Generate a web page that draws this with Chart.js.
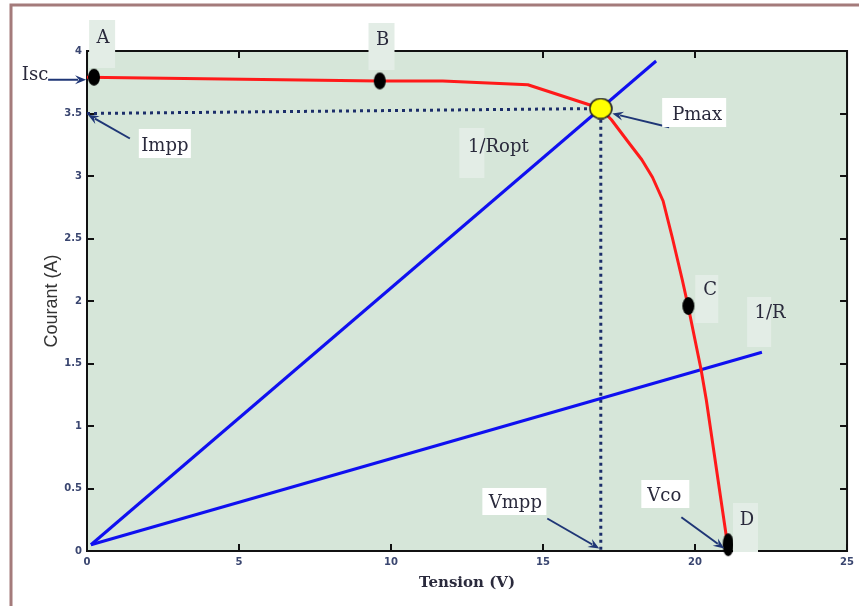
<!DOCTYPE html>
<html>
<head>
<meta charset="utf-8">
<script src="https://cdn.jsdelivr.net/npm/chart.js@4.4.1/dist/chart.umd.min.js"></script>
<style>
html, body { margin: 0; padding: 0; background: #fff; }
</style>
</head>
<body>
<canvas id="graficoIV" width="859" height="606"></canvas>
<script>
// COURBE I-V DU MODULE
const tensionIV = [0, 9.6, 11.7, 14.5, 16.9, 17.25, 17.84, 18.25, 18.6, 18.95, 19.25, 19.58, 19.78, 20.2, 20.37, 21.1];
const courantIV = [3.79, 3.76, 3.76, 3.73, 3.54, 3.45, 3.26, 3.13, 2.99, 2.80, 2.51, 2.17, 1.95, 1.45, 1.21, 0.0];

// DROITES DE CHARGE (1/Ropt et 1/R)
const tensionRopt = [0.13, 18.72];
const courantRopt = [0.05, 3.92];
const tensionR = [0.13, 22.2];
const courantR = [0.05, 1.59];

// POINTS A, B, C, D
const pointsNoms = ['A', 'B', 'C', 'D'];
const pointsTension = [0.23, 9.63, 19.78, 21.09];
const pointsCourant = [3.79, 3.76, 1.96, 0.05];

// POINT DE PUISSANCE MAXIMALE
const vmpp = 16.9;
const impp = 3.54;
const imppAxe = 3.5;

// GRADUATIONS
const ticksTension = [0, 5, 10, 15, 20, 25];
const ticksCourant = [0, 0.5, 1, 1.5, 2, 2.5, 3, 3.5, 4];

// ETIQUETTES (position du texte en V / A, boite en px autour)
const etiquettes = [
    { t: 'A', v: 0.53, i: 4.104, fond: '#e3ede6', bw: 26, bh: 48, dx: -1, dy: 6 },
    { t: 'B', v: 9.72, i: 4.088, fond: '#e3ede6', bw: 26, bh: 47, dx: -1, dy: 6.5 },
    { t: 'C', v: 20.5, i: 2.088, fond: '#e3ede6', bw: 23, bh: 48, dx: -3.5, dy: 9 },
    { t: 'D', v: 21.71, i: 0.248, fond: '#e3ede6', bw: 25, bh: 49, dx: -1.5, dy: 7.5 },
    { t: '1/Ropt', v: 13.53, i: 3.232, fond: '#e3ede6', bw: 25, bh: 50, dx: -26.5, dy: 6 },
    { t: '1/R', v: 22.47, i: 1.904, fond: '#e3ede6', bw: 24, bh: 50, dx: -11, dy: 9 },
    { t: 'Pmax', v: 20.07, i: 3.488, fond: '#ffffff', bw: 64, bh: 29, dx: -3, dy: -2.5 },
    { t: 'Impp', v: 2.56, i: 3.24, fond: '#ffffff', bw: 52, bh: 29, dx: 0, dy: -2.5 },
    { t: 'Vmpp', v: 14.09, i: 0.384, fond: '#ffffff', bw: 64, bh: 27, dx: -1, dy: -1.5 },
    { t: 'Vco', v: 18.99, i: 0.44, fond: '#ffffff', bw: 48, bh: 28, dx: 1, dy: -2 },
    { t: 'Isc', v: -1.71, i: 3.808, fond: null }
];

// FLECHES (de -> vers, en V / A)
const fleches = [
    { de: [-1.28, 3.77], vers: [-0.03, 3.77] },
    { de: [1.41, 3.30], vers: [0.03, 3.49] },
    { de: [19.15, 3.39], vers: [17.28, 3.50] },
    { de: [15.14, 0.26], vers: [16.85, 0.02] },
    { de: [19.55, 0.27], vers: [20.96, 0.02] }
];

function serie(xs, ys) {
    return xs.map((x, k) => ({ x: x, y: ys[k] }));
}

// marqueur elliptique dessine sur un petit canvas
function ellipse(w, h, fill, stroke) {
    const c = document.createElement('canvas');
    c.width = w + 2; c.height = h + 2;
    const g = c.getContext('2d');
    g.beginPath();
    g.ellipse(c.width / 2, c.height / 2, w / 2, h / 2, 0, 0, Math.PI * 2);
    g.fillStyle = fill; g.fill();
    if (stroke) { g.lineWidth = 1.5; g.strokeStyle = stroke; g.stroke(); }
    return c;
}

const marqueurs = [ellipse(12, 17, '#000'), ellipse(12, 17, '#000'), ellipse(12, 18, '#000'), ellipse(11, 23, '#000')];
const marqueurPmax = ellipse(22, 20, '#ffff00', '#222');

const decorPlugin = {
    id: 'decor',
    beforeDraw(chart) {
        const { ctx, chartArea: a } = chart;
        ctx.save();
        ctx.fillStyle = '#fff';
        ctx.fillRect(0, 0, chart.width, chart.height);
        // cadre exterieur
        ctx.strokeStyle = '#a47b7b';
        ctx.lineWidth = 3;
        ctx.beginPath();
        ctx.moveTo(11, chart.height + 5);
        ctx.lineTo(11, 5);
        ctx.lineTo(chart.width + 5, 5);
        ctx.stroke();
        ctx.fillStyle = '#d6e6d9';
        ctx.fillRect(a.left, a.top, a.right - a.left, a.bottom - a.top);
        ctx.restore();
    },
    beforeDatasetsDraw(chart) {
        const { ctx, chartArea: a, scales: { x, y } } = chart;
        ctx.save();
        ctx.strokeStyle = '#111';
        ctx.lineWidth = 2;
        ctx.strokeRect(a.left, a.top, a.right - a.left, a.bottom - a.top);
        ctx.beginPath();
        ticksTension.forEach(v => {
            const px = Math.round(x.getPixelForValue(v));
            ctx.moveTo(px, a.bottom); ctx.lineTo(px, a.bottom - 7);
            ctx.moveTo(px, a.top); ctx.lineTo(px, a.top + 7);
        });
        ticksCourant.forEach(v => {
            const py = Math.round(y.getPixelForValue(v));
            ctx.moveTo(a.left, py); ctx.lineTo(a.left + 7, py);
            ctx.moveTo(a.right, py); ctx.lineTo(a.right - 7, py);
        });
        ctx.stroke();
        ctx.restore();
    },
    afterDraw(chart) {
        const { ctx, scales: { x, y } } = chart;
        ctx.save();
        // fleches
        ctx.strokeStyle = '#1f3676';
        ctx.fillStyle = '#1f3676';
        ctx.lineWidth = 2;
        fleches.forEach(f => {
            const x0 = x.getPixelForValue(f.de[0]), y0 = y.getPixelForValue(f.de[1]);
            const x1 = x.getPixelForValue(f.vers[0]), y1 = y.getPixelForValue(f.vers[1]);
            const ang = Math.atan2(y1 - y0, x1 - x0);
            ctx.beginPath();
            ctx.moveTo(x0, y0);
            ctx.lineTo(x1 - 8 * Math.cos(ang), y1 - 8 * Math.sin(ang));
            ctx.stroke();
            ctx.beginPath();
            ctx.moveTo(x1, y1);
            ctx.lineTo(x1 - 11 * Math.cos(ang) + 4.5 * Math.sin(ang), y1 - 11 * Math.sin(ang) - 4.5 * Math.cos(ang));
            ctx.lineTo(x1 - 7 * Math.cos(ang), y1 - 7 * Math.sin(ang));
            ctx.lineTo(x1 - 11 * Math.cos(ang) - 4.5 * Math.sin(ang), y1 - 11 * Math.sin(ang) + 4.5 * Math.cos(ang));
            ctx.closePath();
            ctx.fill();
        });
        // etiquettes
        ctx.font = '18px "DejaVu Serif"';
        ctx.textAlign = 'center';
        ctx.textBaseline = 'middle';
        etiquettes.forEach(e => {
            const px = x.getPixelForValue(e.v), py = y.getPixelForValue(e.i);
            if (e.fond) {
                ctx.fillStyle = e.fond;
                ctx.fillRect(px + e.dx - e.bw / 2, py + e.dy - e.bh / 2, e.bw, e.bh);
            }
            ctx.fillStyle = '#2a2a3c';
            ctx.fillText(e.t, px, py);
        });
        ctx.restore();
    }
};

const axeCommun = {
    type: 'linear',
    grid: { display: false, drawTicks: false },
    border: { display: false },
    ticks: {
        font: { family: 'DejaVu Sans', size: 10, weight: 'bold' },
        color: '#3a4670',
        maxRotation: 0,
        callback: v => String(v)
    }
};

new Chart(document.getElementById('graficoIV'), {
    type: 'scatter',
    data: {
        datasets: [
            {
                data: serie(pointsTension, pointsCourant),
                pointStyle: marqueurs,
                pointRadius: 6,
                showLine: false,
                clip: false
            },
            {
                data: [{ x: vmpp, y: impp }],
                pointStyle: marqueurPmax,
                pointRadius: 10,
                showLine: false,
                clip: false
            },
            {
                data: serie(tensionIV, courantIV),
                showLine: true,
                borderColor: '#ff1a1a',
                borderWidth: 3,
                borderJoinStyle: 'round',
                pointRadius: 0,
                tension: 0
            },
            {
                data: serie(tensionRopt, courantRopt),
                showLine: true,
                borderColor: '#1010f0',
                borderWidth: 3,
                pointRadius: 0
            },
            {
                data: serie(tensionR, courantR),
                showLine: true,
                borderColor: '#1010f0',
                borderWidth: 3,
                pointRadius: 0
            },
            {
                data: [{ x: 0, y: imppAxe }, { x: vmpp, y: impp }, { x: vmpp, y: 0 }],
                showLine: true,
                borderColor: '#1c2e6a',
                borderWidth: 3,
                borderDash: [3, 4],
                pointRadius: 0
            }
        ]
    },
    options: {
        responsive: false,
        animation: false,
        events: [],
        layout: { padding: { top: 51, right: 11, left: 0, bottom: 0 } },
        plugins: { legend: { display: false }, tooltip: { enabled: false } },
        scales: {
            x: {
                ...axeCommun,
                position: 'bottom',
                min: 0, max: 25,
                afterBuildTicks: s => { s.ticks = ticksTension.map(v => ({ value: v })); },
                afterFit: s => { s.height = 55; },
                ticks: { ...axeCommun.ticks, padding: 5 },
                title: {
                    display: true, text: 'Tension (V)', color: '#2a2a3c',
                    font: { family: 'DejaVu Serif', size: 15, weight: 'bold' },
                    padding: { top: 0, bottom: 14 }
                }
            },
            y: {
                ...axeCommun,
                position: 'left',
                min: 0, max: 4,
                afterBuildTicks: s => { s.ticks = ticksCourant.map(v => ({ value: v })); },
                afterFit: s => { s.width = 87; },
                ticks: { ...axeCommun.ticks, padding: 5 },
                title: {
                    display: true, text: 'Courant (A)', color: '#333',
                    font: { family: 'Liberation Sans', size: 18 },
                    padding: { top: 41, bottom: 0 }
                }
            }
        }
    },
    plugins: [decorPlugin]
});
</script>
</body>
</html>
